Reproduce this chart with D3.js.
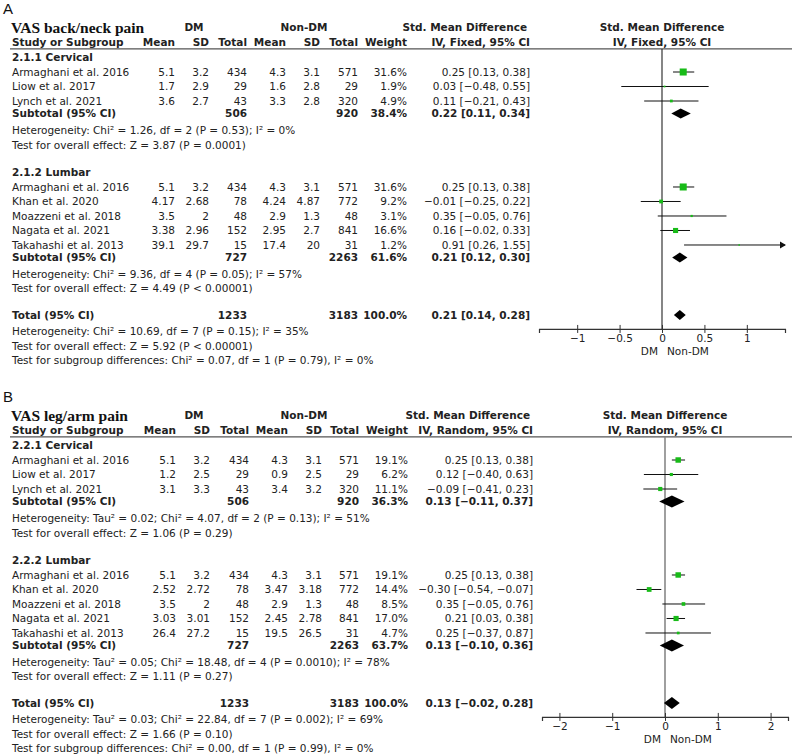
<!DOCTYPE html>
<html>
<head>
<meta charset="utf-8">
<script src="https://cdn.jsdelivr.net/npm/d3@7"></script>
<style>
    body { margin: 0; background: #fff; }
    svg text { font-family: 'DejaVu Sans', sans-serif; font-size: 10.5px; fill: #222; }
    svg text.negrito { font-weight: bold; }
    svg text.titulo { font-family: 'Liberation Serif', serif; font-size: 15.5px; font-weight: bold; fill: #111; }
    svg text.letra { font-family: 'Liberation Sans', sans-serif; font-size: 15px; fill: #111; }
</style>
</head>
<body>
<svg id="grafico"></svg>
<script>
// estudos e subgrupos (iguais nos dois paineis)
const estudos = ['Armaghani et al. 2016', 'Liow et al. 2017', 'Lynch et al. 2021',
    'Armaghani et al. 2016', 'Khan et al. 2020', 'Moazzeni et al. 2018', 'Nagata et al. 2021', 'Takahashi et al. 2013'];
const grupoDoEstudo = [0, 0, 0, 1, 1, 1, 1, 1];
const dmTotal = [434, 29, 43, 434, 78, 48, 152, 15];
const naoTotal = [571, 29, 320, 571, 772, 48, 841, 31];
const subtotalDm = [506, 727];
const subtotalNao = [920, 2263];
const totalGeral = [1233, 3183];

// painel A - VAS back/neck pain
const gruposA = ['2.1.1 Cervical', '2.1.2 Lumbar'];
const dmMediaA = [5.1, 1.7, 3.6, 5.1, 4.17, 3.5, 3.38, 39.1];
const dmDpA = [3.2, 2.9, 2.7, 3.2, 2.68, 2, 2.96, 29.7];
const naoMediaA = [4.3, 1.6, 3.3, 4.3, 4.24, 2.9, 2.95, 17.4];
const naoDpA = [3.1, 2.8, 2.8, 3.1, 4.87, 1.3, 2.7, 20];
const pesoA = [31.6, 1.9, 4.9, 31.6, 9.2, 3.1, 16.6, 1.2];
const smdA = [0.25, 0.03, 0.11, 0.25, -0.01, 0.35, 0.16, 0.91];
const infA = [0.13, -0.48, -0.21, 0.13, -0.25, -0.05, -0.02, 0.26];
const supA = [0.38, 0.55, 0.43, 0.38, 0.22, 0.76, 0.33, 1.55];
const subPesoA = [38.4, 61.6];
const subSmdA = [0.22, 0.21];
const subInfA = [0.11, 0.12];
const subSupA = [0.34, 0.30];
const totalA = [0.21, 0.14, 0.28];
const textosA = [
    'Heterogeneity: Chi² = 1.26, df = 2 (P = 0.53); I² = 0%',
    'Test for overall effect: Z = 3.87 (P = 0.0001)',
    'Heterogeneity: Chi² = 9.36, df = 4 (P = 0.05); I² = 57%',
    'Test for overall effect: Z = 4.49 (P < 0.00001)',
    'Heterogeneity: Chi² = 10.69, df = 7 (P = 0.15); I² = 35%',
    'Test for overall effect: Z = 5.92 (P < 0.00001)',
    'Test for subgroup differences: Chi² = 0.07, df = 1 (P = 0.79), I² = 0%'
];
const ticksA = [-1, -0.5, 0, 0.5, 1];

// painel B - VAS leg/arm pain
const gruposB = ['2.2.1 Cervical', '2.2.2 Lumbar'];
const dmMediaB = [5.1, 1.2, 3.1, 5.1, 2.52, 3.5, 3.03, 26.4];
const dmDpB = [3.2, 2.5, 3.3, 3.2, 2.72, 2, 3.01, 27.2];
const naoMediaB = [4.3, 0.9, 3.4, 4.3, 3.47, 2.9, 2.45, 19.5];
const naoDpB = [3.1, 2.5, 3.2, 3.1, 3.18, 1.3, 2.78, 26.5];
const pesoB = [19.1, 6.2, 11.1, 19.1, 14.4, 8.5, 17.0, 4.7];
const smdB = [0.25, 0.12, -0.09, 0.25, -0.30, 0.35, 0.21, 0.25];
const infB = [0.13, -0.40, -0.41, 0.13, -0.54, -0.05, 0.03, -0.37];
const supB = [0.38, 0.63, 0.23, 0.38, -0.07, 0.76, 0.38, 0.87];
const subPesoB = [36.3, 63.7];
const subSmdB = [0.13, 0.13];
const subInfB = [-0.11, -0.10];
const subSupB = [0.37, 0.36];
const totalB = [0.13, -0.02, 0.28];
const textosB = [
    'Heterogeneity: Tau² = 0.02; Chi² = 4.07, df = 2 (P = 0.13); I² = 51%',
    'Test for overall effect: Z = 1.06 (P = 0.29)',
    'Heterogeneity: Tau² = 0.05; Chi² = 18.48, df = 4 (P = 0.0010); I² = 78%',
    'Test for overall effect: Z = 1.11 (P = 0.27)',
    'Heterogeneity: Tau² = 0.03; Chi² = 22.84, df = 7 (P = 0.002); I² = 69%',
    'Test for overall effect: Z = 1.66 (P = 0.10)',
    'Test for subgroup differences: Chi² = 0.00, df = 1 (P = 0.99), I² = 0%'
];
const ticksB = [-2, -1, 0, 1, 2];

const verde = '#18bb18';
const menos = s => s.replace(/-/g, '\u2212');
const fmtIc = (m, a, b) => menos(m.toFixed(2) + ' [' + a.toFixed(2) + ', ' + b.toFixed(2) + ']');

function Painel(parametros) {

    let svg = d3.select(parametros.seletor);
    let g = svg
        .append('g')
        .attr('transform', 'translate(0,' + parametros.topo + ')');

    // linhas da tabela em unidades de linha -> pixels
    let fnY = d3
        .scaleLinear()
        .domain([0, 1])
        .range([72, 86.5]);

    let fnX = d3
        .scaleLinear()
        .domain(parametros.dominio)
        .range([parametros.xEsq, parametros.xDir]);

    let col = parametros.colunas;
    let posEstudo = (d, i) => i + (grupoDoEstudo[i] ? 4.93 : 0);

    function texto(x, u, t, ancora, classe) {
        return g.append('text')
            .attr('x', x)
            .attr('y', fnY(u))
            .attr('dy', '0.36em')
            .attr('text-anchor', ancora || 'start')
            .attr('class', classe || null)
            .text(t);
    }

    // letra e titulo
    g.append('text').attr('class', 'letra').attr('x', 3).attr('y', 14).text(parametros.letra);
    texto(11, -3.1, parametros.titulo, 'start', 'titulo');

    // cabecalho
    texto(194, -3.1, 'DM', 'middle', 'negrito');
    texto(304, -3.1, 'Non-DM', 'middle', 'negrito');
    texto(col[7] - 3, -3.1, 'Std. Mean Difference', 'end', 'negrito');
    texto(fnX(0), -3.1, 'Std. Mean Difference', 'middle', 'negrito');
    texto(12, -2.07, 'Study or Subgroup', 'start', 'negrito');
    ['Mean', 'SD', 'Total', 'Mean', 'SD', 'Total', 'Weight', parametros.metodo]
        .forEach((t, i) => texto(col[i], -2.07, t, 'end', 'negrito'));
    texto(fnX(0), -2.07, parametros.metodo, 'middle', 'negrito');

    g.append('line')
        .attr('x1', 10).attr('x2', 792)
        .attr('y1', fnY(-1.59)).attr('y2', fnY(-1.59))
        .attr('stroke', '#555').attr('stroke-width', 1.3);

    // linha do zero
    g.append('line')
        .attr('x1', fnX(0)).attr('x2', fnX(0))
        .attr('y1', fnY(-1.59)).attr('y2', fnY(17.72))
        .attr('stroke', parametros.corZero).attr('stroke-width', parametros.larguraZero);

    // grupos e estudos
    texto(12, -1.03, parametros.grupos[0], 'start', 'negrito');
    texto(12, 6.9, parametros.grupos[1], 'start', 'negrito');

    estudos.forEach((nome, i) => {
        let u = posEstudo(nome, i);
        texto(12, u, nome);
        [parametros.dmMedia[i], parametros.dmDp[i], dmTotal[i],
         parametros.naoMedia[i], parametros.naoDp[i], naoTotal[i]]
            .forEach((v, k) => texto(col[k], u, String(v), 'end'));
        texto(col[6], u, parametros.peso[i].toFixed(1) + '%', 'end');
        texto(col[7], u, fmtIc(parametros.smd[i], parametros.inf[i], parametros.sup[i]), 'end');
    });

    // subtotais e total
    let linhasSub = [2.86, 12.8];
    let linhasTexto = [4.0, 5.03, 13.93, 14.93, 17.86, 18.9, 19.86];
    [0, 1].forEach(k => {
        let u = linhasSub[k];
        texto(12, u, 'Subtotal (95% CI)', 'start', 'negrito');
        texto(col[2], u, String(subtotalDm[k]), 'end', 'negrito');
        texto(col[5], u, String(subtotalNao[k]), 'end', 'negrito');
        texto(col[6], u, parametros.subPeso[k].toFixed(1) + '%', 'end', 'negrito');
        texto(col[7], u, fmtIc(parametros.subSmd[k], parametros.subInf[k], parametros.subSup[k]), 'end', 'negrito');
    });
    texto(12, 16.76, 'Total (95% CI)', 'start', 'negrito');
    texto(col[2], 16.76, String(totalGeral[0]), 'end', 'negrito');
    texto(col[5], 16.76, String(totalGeral[1]), 'end', 'negrito');
    texto(col[6], 16.76, '100.0%', 'end', 'negrito');
    texto(col[7], 16.76, fmtIc(parametros.total[0], parametros.total[1], parametros.total[2]), 'end', 'negrito');

    parametros.textos.forEach((t, k) => texto(12, linhasTexto[k], t));

    // intervalos de confianca
    let [dMin, dMax] = fnX.domain();
    estudos.forEach((nome, i) => {
        let y = fnY(posEstudo(nome, i));
        let a = Math.max(parametros.inf[i], dMin);
        let b = Math.min(parametros.sup[i], dMax);
        g.append('line')
            .attr('x1', fnX(a)).attr('x2', fnX(b))
            .attr('y1', y).attr('y2', y)
            .attr('stroke', '#111').attr('stroke-width', 1);
        if (parametros.sup[i] > dMax) {
            g.append('path')
                .attr('d', 'M' + (fnX(dMax) + 1) + ',' + y + 'l-6,-3.5l0,7z')
                .attr('fill', '#111');
        }
        let lado = Math.max(1.5, 1.25 * Math.sqrt(parametros.peso[i]));
        g.append('rect')
            .attr('x', fnX(parametros.smd[i]) - lado / 2)
            .attr('y', y - lado / 2)
            .attr('width', lado)
            .attr('height', lado)
            .attr('fill', verde);
    });

    // diamantes
    let diamantes = [
        [parametros.subSmd[0], parametros.subInf[0], parametros.subSup[0], linhasSub[0]],
        [parametros.subSmd[1], parametros.subInf[1], parametros.subSup[1], linhasSub[1]],
        [parametros.total[0], parametros.total[1], parametros.total[2], 16.76]
    ];
    let h = parametros.alturaDiamante / 2;
    diamantes.forEach(d => {
        let y = fnY(d[3]);
        g.append('path')
            .attr('d', 'M' + fnX(d[1]) + ',' + y + 'L' + fnX(d[0]) + ',' + (y - h) +
                'L' + fnX(d[2]) + ',' + y + 'L' + fnX(d[0]) + ',' + (y + h) + 'Z')
            .attr('fill', '#000');
    });

    // eixo
    let eixo = d3.axisBottom(fnX)
        .tickValues(parametros.ticks)
        .tickFormat(d3.format('~g'))
        .tickSizeOuter(0)
        .tickSize(4)
        .tickPadding(2);
    let gEixo = g.append('g')
        .attr('transform', 'translate(0,' + fnY(17.72) + ')')
        .call(eixo);
    gEixo.select('.domain').attr('stroke', '#333').attr('stroke-width', 1.2);
    gEixo.selectAll('.tick line').attr('y1', -4).attr('stroke', '#333');
    gEixo.selectAll('.tick text')
        .attr('font-family', 'DejaVu Sans').attr('font-size', '10.5px').attr('fill', '#222');

    g.append('text')
        .attr('x', fnX(0) - 4).attr('y', fnY(17.72) + 26)
        .attr('text-anchor', 'end').text('DM');
    g.append('text')
        .attr('x', fnX(0) + 5).attr('y', fnY(17.72) + 26)
        .attr('text-anchor', 'start').text('Non-DM');
}

d3.select('#grafico').attr('width', 794).attr('height', 756);

new Painel({
    seletor: '#grafico', topo: 0, letra: 'A', titulo: 'VAS back/neck pain',
    metodo: 'IV, Fixed, 95% CI', grupos: gruposA,
    colunas: [175, 209, 247, 286, 320, 358, 407, 530],
    dominio: [-1.45, 1.45], xEsq: 539, xDir: 785, ticks: ticksA,
    dmMedia: dmMediaA, dmDp: dmDpA, naoMedia: naoMediaA, naoDp: naoDpA,
    peso: pesoA, smd: smdA, inf: infA, sup: supA,
    subPeso: subPesoA, subSmd: subSmdA, subInf: subInfA, subSup: subSupA,
    total: totalA, textos: textosA,
    corZero: '#222', larguraZero: 1.1, alturaDiamante: 10
});

new Painel({
    seletor: '#grafico', topo: 388, letra: 'B', titulo: 'VAS leg/arm pain',
    metodo: 'IV, Random, 95% CI', grupos: gruposB,
    colunas: [176, 210, 249, 288, 322, 359, 408, 533],
    dominio: [-2.33, 2.33], xEsq: 542, xDir: 788, ticks: ticksB,
    dmMedia: dmMediaB, dmDp: dmDpB, naoMedia: naoMediaB, naoDp: naoDpB,
    peso: pesoB, smd: smdB, inf: infB, sup: supB,
    subPeso: subPesoB, subSmd: subSmdB, subInf: subInfB, subSup: subSupB,
    total: totalB, textos: textosB,
    corZero: '#888', larguraZero: 1.6, alturaDiamante: 12
});
</script>
</body>
</html>
